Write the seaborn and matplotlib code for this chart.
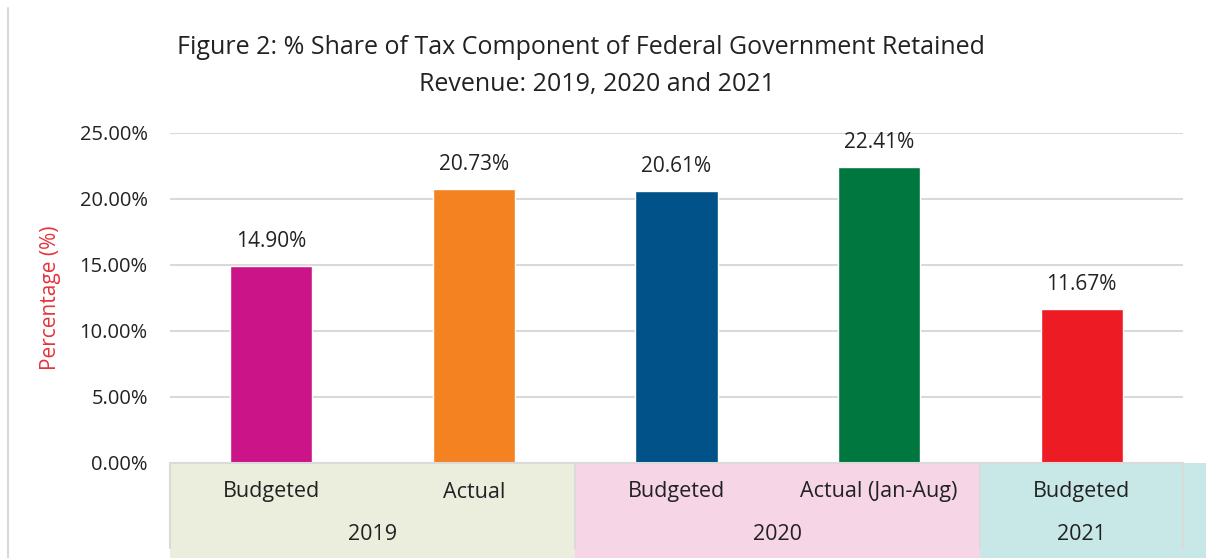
import matplotlib
matplotlib.use("Agg")
import matplotlib.pyplot as plt
import matplotlib.transforms as mtransforms
from matplotlib.patches import Rectangle
from matplotlib.lines import Line2D
import seaborn as sns
import pandas as pd

# Data
categories = ["Budgeted 2019", "Actual 2019", "Budgeted 2020", "Actual (Jan-Aug) 2020", "Budgeted 2021"]
sub_labels = ["Budgeted", "Actual", "Budgeted", "Actual (Jan-Aug)", "Budgeted"]
years = ["2019", "2020", "2021"]
year_spans = [(0, 1), (2, 3), (4, 4)]
values = [14.90, 20.73, 20.61, 22.41, 11.67]
bar_colors = ["#CC1489", "#F58220", "#005288", "#00773F", "#ED1C24"]
band_colors = ["#EBEEDD", "#F5D5E6", "#C8E8E7"]
yticks = [0, 5, 10, 15, 20, 25]

sns.set_theme(style="white")
plt.rcParams["font.family"] = ["Open Sans", "DejaVu Sans"]

W, H = 1206, 558
fig = plt.figure(figsize=(W / 100, H / 100), dpi=100)
ax = fig.add_axes([170 / W, 95 / H, 1013 / W, 330 / H])

df = pd.DataFrame({"cat": categories, "val": values})
sns.barplot(data=df, x="cat", y="val", hue="cat", palette=bar_colors,
            order=categories, hue_order=categories, width=0.405,
            legend=False, ax=ax, saturation=1)

for c in ax.containers:
    ax.bar_label(c, fmt="%.2f%%", padding=10, fontsize=15, color="#222222")

ax.set_ylim(0, 25)
ax.set_xlim(-0.5, 4.5)
ax.set_yticks(yticks)
ax.set_yticklabels([f"{t:.2f}%" for t in yticks], fontsize=14.5, color="#222222")
ax.tick_params(axis="y", length=0, pad=16)
ax.set_xticks([])
ax.set_xlabel("")
ax.set_ylabel("Percentage (%)", fontsize=15, color="#E8323C")
ax.yaxis.set_label_coords(-0.108, 0.5)
ax.grid(axis="y", color="#D9D9D9", linewidth=1.5)
ax.set_axisbelow(True)
for s in ax.spines.values():
    s.set_visible(False)

# Category bands below the axis
trans = mtransforms.blended_transform_factory(ax.transData, ax.transAxes)
band_bottom = -95 / 330
for (a, b), col, yr in zip(year_spans, band_colors, years):
    ax.add_patch(Rectangle((a - 0.5, band_bottom), (b - a) + 1, -band_bottom,
                           transform=trans, facecolor=col, edgecolor="none",
                           clip_on=False, zorder=0))
    ax.text((a + b) / 2, -71 / 330, yr, transform=trans, ha="center", va="center",
            fontsize=15.5, color="#222222")
# extra strip to the right edge
ax.add_patch(Rectangle((4.5, band_bottom), 0.2, -band_bottom, transform=trans,
                       facecolor=band_colors[2], edgecolor="none", clip_on=False, zorder=0))
for i, lab in enumerate(sub_labels):
    ax.text(i, -29 / 330, lab, transform=trans, ha="center", va="center",
            fontsize=15.5, color="#222222")

sep_kw = dict(transform=trans, color="#DADADA", linewidth=1.5, clip_on=False, zorder=1)
ax.add_line(Line2D([-0.5, 4.5], [0, 0], **sep_kw))
for x in [-0.5, 1.5, 3.5, 4.5]:
    ax.add_line(Line2D([x, x], [0, -85 / 330], **sep_kw))

# Frame line on the left edge
fig.add_artist(Line2D([8 / W, 8 / W], [0, 1 - 8 / H], transform=fig.transFigure,
                      color="#D9D9D9", linewidth=1.5))

# Title
fig.text(581 / W, 1 - 47 / H, "Figure 2: % Share of Tax Component of Federal Government Retained",
         ha="center", va="center", fontsize=18, color="#222222")
fig.text(597 / W, 1 - 84 / H, "Revenue: 2019, 2020 and 2021",
         ha="center", va="center", fontsize=18, color="#222222")

fig.savefig("out.png", dpi=100, facecolor="white")
